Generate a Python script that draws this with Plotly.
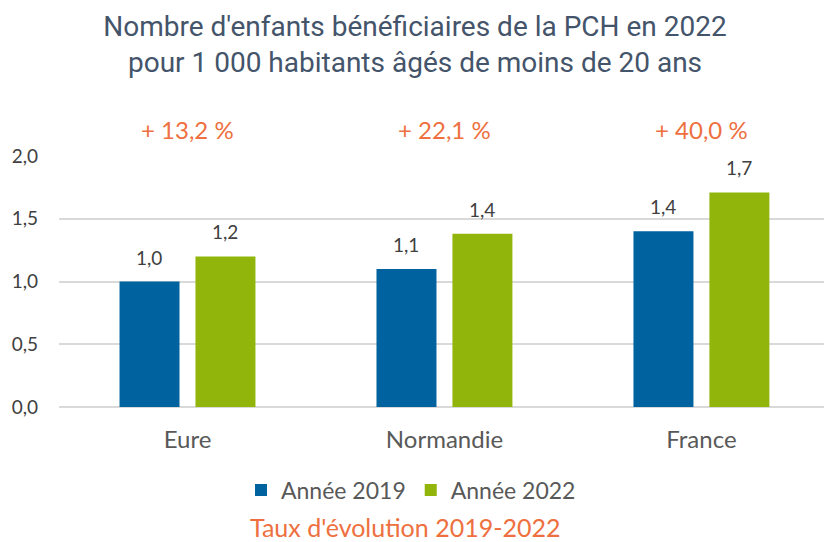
import plotly.graph_objects as go

categories = ["Eure", "Normandie", "France"]
values_2019 = [1.0, 1.1, 1.4]
values_2022 = [1.2, 1.38, 1.71]
labels_2019 = ["1,0", "1,1", "1,4"]
labels_2022 = ["1,2", "1,4", "1,7"]
evolution = ["+ 13,2 %", "+ 22,1 %", "+ 40,0 %"]
series_names = ["Année 2019", "Année 2022"]
y_ticks = [0, 0.5, 1.0, 1.5, 2.0]
y_ticklabels = ["0,0", "0,5", "1,0", "1,5", "2,0"]

BLUE = "#00629E"
GREEN = "#92B50B"
ORANGE = "#EE7040"
TXT = "#404040"
GRAY = "#595959"
BODY = "Lato, Carlito, Open Sans, sans-serif"

fig = go.Figure()
fig.add_trace(go.Bar(x=categories, y=values_2019, name=series_names[0],
                     marker=dict(color=BLUE, line=dict(width=0))))
fig.add_trace(go.Bar(x=categories, y=values_2022, name=series_names[1],
                     marker=dict(color=GREEN, line=dict(width=0))))

annotations = []
for c, v, t in zip(categories, values_2019, labels_2019):
    annotations.append(dict(x=c, y=v, text=t, xshift=-38, yshift=11, showarrow=False,
                            yanchor="bottom", font=dict(size=19, color=TXT, family=BODY)))
for c, v, t in zip(categories, values_2022, labels_2022):
    annotations.append(dict(x=c, y=v, text=t, xshift=38, yshift=11, showarrow=False,
                            yanchor="bottom", font=dict(size=19, color=TXT, family=BODY)))
for c, t in zip(categories, evolution):
    annotations.append(dict(x=c, y=2.0, text=t, yshift=27, showarrow=False,
                            yanchor="middle", font=dict(size=24, color=ORANGE, family=BODY)))
annotations.append(dict(xref="paper", yref="paper", x=(405 - 59) / 765, y=(407 - 527) / 251,
                        text="Taux d'évolution 2019-2022", showarrow=False, yanchor="middle",
                        xanchor="center", font=dict(size=25, color=ORANGE, family=BODY)))

fig.update_layout(
    width=824, height=542,
    margin=dict(l=59, r=0, t=156, b=135),
    paper_bgcolor="white", plot_bgcolor="white",
    title=dict(text="Nombre d'enfants bénéficiaires de la PCH en 2022<br>pour 1 000 habitants âgés de moins de 20 ans",
               x=415 / 824, xanchor="center", y=1 - 36 / 542, yanchor="middle",
               font=dict(family="Roboto, sans-serif", size=28, color="#44546A")),
    barmode="group", bargap=0.409, bargroupgap=0.21,
    separators=",.",
    showlegend=True,
    legend=dict(orientation="h", x=(411 - 59) / 765, xanchor="center", y=(407 - 490) / 251,
                yanchor="middle", font=dict(size=23, color=GRAY, family=BODY),
                itemwidth=30, traceorder="normal"),
    annotations=annotations,
    xaxis=dict(range=[-0.5, 2.477], showgrid=False, showline=False, ticks="",
               tickfont=dict(size=24, color=GRAY, family=BODY), ticklabelstandoff=16),
    yaxis=dict(range=[0, 2.0], tickvals=y_ticks, ticktext=y_ticklabels,
               showgrid=True, gridcolor="#D9D9D9", gridwidth=1.5, zeroline=True,
               zerolinecolor="#D9D9D9", zerolinewidth=1.5, showline=False, ticks="",
               tickfont=dict(size=19, color=TXT, family=BODY), ticklabelstandoff=20),
)

fig.write_html("out.html", config={"displayModeBar": False},
               post_script="document.body.style.margin='0';")
